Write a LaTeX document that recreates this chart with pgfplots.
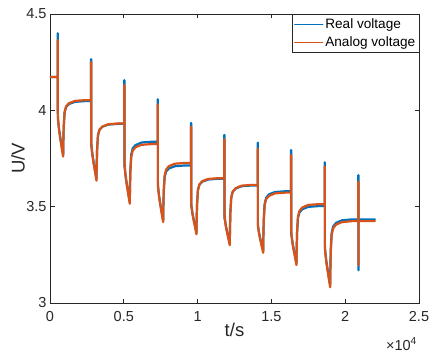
\documentclass[border=0pt]{standalone}
\usepackage{fontspec}
\setmainfont{Liberation Sans}
\usepackage{pgfplots}
\pgfplotsset{compat=1.18}
\definecolor{mblue}{rgb}{0,0.447,0.741}
\definecolor{morange}{rgb}{0.85,0.325,0.098}
\definecolor{axgray}{rgb}{0.15,0.15,0.15}
\begin{document}
\begin{tikzpicture}
\begin{axis}[
  scale only axis, width=369pt, height=289pt,
  xmin=0, xmax=25000, ymin=3, ymax=4.5,
  xtick={0,5000,10000,15000,20000,25000},
  xticklabels={0,0.5,1,1.5,2,2.5},
  ytick={3,3.5,4,4.5},
  yticklabels={3,3.5,4,4.5},
  scaled x ticks=false,
  tick align=inside, major tick length=4.5pt,
  axis line style={axgray, line width=0.8pt},
  tick style={axgray, line width=0.7pt},
  tick label style={font=\fontsize{14.5}{16}\selectfont, text=axgray},
  xticklabel style={yshift=-5pt},
  /pgf/number format/assume math mode=true,
  xlabel={t/s}, ylabel={U/V},
  label style={font=\fontsize{18.5}{20}\selectfont, text=axgray},
  xlabel style={at={(axis description cs:0.5,-0.0934)}, anchor=center},
  ylabel style={at={(axis description cs:-0.0867,0.5)}, anchor=center},
  legend cell align=left,
  legend style={at={(1,1)}, anchor=north east, draw=axgray,
    fill=white, font=\fontsize{13.6}{15}\selectfont, inner xsep=1.5pt, inner ysep=2.5pt, row sep=2.5pt},
  legend image code/.code={\draw[#1] (0pt,0pt) -- (28pt,0pt);},
  legend image post style={line width=1.3pt},
]
\addplot[draw=mblue, line width=2.2pt, line join=round, line cap=round] coordinates {
(0,4.173) (520,4.173) (522,4.40) (530,4.40) (532,3.955) (568,3.934) (622,3.897) (711,3.852) (800,3.811) (854,3.786) (890,3.770) (905,3.842) (930,3.917) (990,3.990) (1090,4.017) (1290,4.033) (1690,4.044) (2390,4.048)
(2780,4.048) (2782,4.266) (2790,4.266) (2792,3.82) (2828,3.801) (2882,3.766) (2971,3.723) (3060,3.684) (3114,3.661) (3150,3.645) (3165,3.719) (3190,3.796) (3250,3.870) (3350,3.899) (3550,3.915) (3950,3.926) (4650,3.930)
(5035,3.930) (5037,4.157) (5045,4.157) (5047,3.712) (5083,3.689) (5137,3.652) (5226,3.607) (5315,3.566) (5369,3.541) (5405,3.525) (5420,3.606) (5445,3.690) (5505,3.771) (5605,3.803) (5805,3.820) (6205,3.833) (6905,3.837)
(7297,3.837) (7299,4.057) (7307,4.057) (7309,3.604) (7345,3.586) (7399,3.551) (7488,3.508) (7577,3.469) (7631,3.446) (7667,3.430) (7682,3.504) (7707,3.581) (7767,3.654) (7867,3.683) (8067,3.699) (8467,3.710) (9167,3.714)
(9553,3.714) (9555,3.935) (9563,3.935) (9565,3.505) (9601,3.493) (9655,3.465) (9744,3.430) (9833,3.399) (9887,3.380) (9923,3.367) (9938,3.439) (9963,3.514) (10023,3.587) (10123,3.614) (10323,3.630) (10723,3.641) (11423,3.645)
(11809,3.645) (11811,3.872) (11819,3.872) (11821,3.44) (11857,3.430) (11911,3.403) (12000,3.370) (12089,3.340) (12143,3.322) (12179,3.310) (12194,3.388) (12219,3.469) (12279,3.547) (12379,3.577) (12579,3.594) (12979,3.606) (13679,3.610)
(14072,3.610) (14074,3.832) (14082,3.832) (14084,3.396) (14120,3.386) (14174,3.360) (14263,3.329) (14352,3.300) (14406,3.283) (14442,3.271) (14457,3.351) (14482,3.435) (14542,3.515) (14642,3.546) (14842,3.564) (15242,3.576) (15942,3.580)
(16328,3.580) (16330,3.794) (16338,3.794) (16340,3.362) (16376,3.345) (16430,3.314) (16519,3.276) (16608,3.242) (16662,3.221) (16698,3.207) (16713,3.284) (16738,3.364) (16798,3.441) (16898,3.470) (17098,3.487) (17498,3.499) (18198,3.503)
(18611,3.503) (18613,3.73) (18621,3.73) (18623,3.278) (18659,3.259) (18713,3.222) (18802,3.177) (18891,3.136) (18945,3.111) (18981,3.095) (18996,3.183) (19021,3.275) (19081,3.363) (19181,3.397) (19381,3.416) (19781,3.429) (20481,3.434)
(20888,3.434) (20890,3.664) (20898,3.664) (20900,3.17) (20908,3.17) (20910,3.434) (22019,3.434)
};
\addlegendentry{Real voltage}
\addplot[draw=morange, line width=2.2pt, line join=round, line cap=round] coordinates {
(0,4.173) (520,4.173) (522,4.365) (530,4.365) (532,3.975) (568,3.932) (622,3.893) (711,3.846) (800,3.803) (854,3.777) (890,3.760) (905,3.836) (930,3.915) (990,3.991) (1090,4.021) (1290,4.037) (1690,4.049) (2390,4.053)
(2780,4.053) (2782,4.25) (2790,4.25) (2792,3.84) (2828,3.799) (2882,3.762) (2971,3.717) (3060,3.676) (3114,3.651) (3150,3.635) (3165,3.712) (3190,3.792) (3250,3.870) (3350,3.899) (3550,3.916) (3950,3.928) (4650,3.932)
(5035,3.932) (5037,4.13) (5045,4.13) (5047,3.73) (5083,3.687) (5137,3.648) (5226,3.601) (5315,3.558) (5369,3.532) (5405,3.515) (5420,3.596) (5445,3.679) (5505,3.760) (5605,3.791) (5805,3.809) (6205,3.821) (6905,3.825)
(7297,3.825) (7299,4.03) (7307,4.03) (7309,3.625) (7345,3.584) (7399,3.547) (7488,3.502) (7577,3.461) (7631,3.436) (7667,3.420) (7682,3.500) (7707,3.583) (7767,3.663) (7867,3.693) (8067,3.711) (8467,3.723) (9167,3.727)
(9553,3.727) (9555,3.915) (9563,3.915) (9565,3.525) (9601,3.491) (9655,3.461) (9744,3.424) (9833,3.391) (9887,3.370) (9923,3.357) (9938,3.433) (9963,3.511) (10023,3.587) (10123,3.616) (10323,3.633) (10723,3.644) (11423,3.648)
(11809,3.648) (11811,3.85) (11819,3.85) (11821,3.46) (11857,3.428) (11911,3.399) (12000,3.364) (12089,3.332) (12143,3.313) (12179,3.300) (12194,3.381) (12219,3.466) (12279,3.547) (12379,3.579) (12579,3.596) (12979,3.609) (13679,3.613)
(14072,3.613) (14074,3.80) (14082,3.80) (14084,3.415) (14120,3.384) (14174,3.356) (14263,3.323) (14352,3.292) (14406,3.273) (14442,3.261) (14457,3.342) (14482,3.426) (14542,3.507) (14642,3.539) (14842,3.556) (15242,3.569) (15942,3.573)
(16328,3.573) (16330,3.768) (16338,3.768) (16340,3.38) (16376,3.343) (16430,3.310) (16519,3.270) (16608,3.234) (16662,3.212) (16698,3.197) (16713,3.279) (16738,3.364) (16798,3.447) (16898,3.478) (17098,3.496) (17498,3.509) (18198,3.513)
(18611,3.513) (18613,3.708) (18621,3.708) (18623,3.30) (18659,3.256) (18713,3.217) (18802,3.169) (18891,3.126) (18945,3.099) (18981,3.082) (18996,3.171) (19021,3.264) (19081,3.353) (19181,3.387) (19381,3.407) (19781,3.420) (20481,3.425)
(20888,3.425) (20890,3.63) (20898,3.63) (20900,3.197) (20908,3.197) (20910,3.425) (22019,3.425)
};
\addlegendentry{Analog voltage}
\end{axis}
\node[anchor=base east, text=axgray, font=\fontsize{14.5}{16}\selectfont, inner sep=0pt]
  at ([shift={(-2pt,-47pt)}]current axis.south east) {×10\textsuperscript{4}};
\pgfresetboundingbox
\path[use as bounding box] ([shift={(-50pt,-53pt)}]current axis.south west) rectangle ([shift={(11pt,14pt)}]current axis.north east);
\end{tikzpicture}
\end{document}
